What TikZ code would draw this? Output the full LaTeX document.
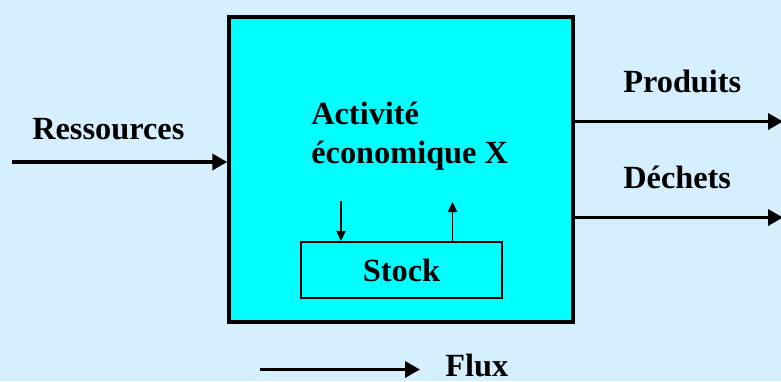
\documentclass[tikz,border=0pt]{standalone}
\usepackage{fontspec}
\setmainfont{Liberation Serif}
\usetikzlibrary{arrows.meta, positioning}
\definecolor{bgblue}{RGB}{213,239,255}
\definecolor{boxcyan}{RGB}{0,255,255}

\begin{document}
\begin{tikzpicture}[
    x=0.025cm, y=-0.025cm,
    activity/.style={draw, fill=boxcyan, line width=2.4pt, minimum width=8.6cm, minimum height=7.625cm, inner sep=0},
    stockbox/.style={draw, line width=1.5pt, minimum width=5.025cm, minimum height=1.4cm, inner sep=0, font=\fontsize{23}{27}\selectfont\bfseries},
    txt/.style={font=\fontsize{23}{27.7}\selectfont\bfseries, inner sep=0},
    flow/.style={-{Triangle[length=3.75mm, width=4mm]}, line width=2.5pt},
    stockflow/.style={-{Triangle[length=2.5mm, width=2.3mm]}, line width=1.2pt}
]
    % Background
    \fill[bgblue] (0,0) rectangle (781,381);
    \useasboundingbox (0,0) rectangle (781,381);

    % Boxes
    \node[activity] (act) at (401,169.5) {};
    \node[stockbox] (stock) at (401.5,270) {Stock};
    \node[txt, anchor=west, align=left] (actlabel) at (311,136) {Activité\\économique X};

    % Labels
    \node[txt, anchor=base west] (res) at (32,139) {Ressources};
    \node[txt, anchor=base west] (prod) at (623,92) {Produits};
    \node[txt, anchor=base west] (dech) at (623,188) {Déchets};
    \node[txt, anchor=base west] (flux) at (445,376) {Flux};

    % Free ends
    \coordinate (resin) at (12,162);
    \coordinate (prodout) at (783,121.5);
    \coordinate (dechout) at (783,217.5);
    \coordinate (tostock) at (341,201);
    \coordinate (fromstock) at (452.5,202);
    \coordinate (fluxstart) at (260,369.5);
    \coordinate (fluxend) at (420,369.5);

    % Flows
    \draw[flow] (resin) -- (resin -| act.west);
    \draw[flow] (prodout -| act.east) -- (prodout);
    \draw[flow] (dechout -| act.east) -- (dechout);
    \draw[stockflow] (tostock) -- (tostock |- stock.north);
    \draw[stockflow] (fromstock |- stock.north) -- (fromstock);
    \draw[flow] (fluxstart) -- (fluxend);
\end{tikzpicture}
\end{document}
